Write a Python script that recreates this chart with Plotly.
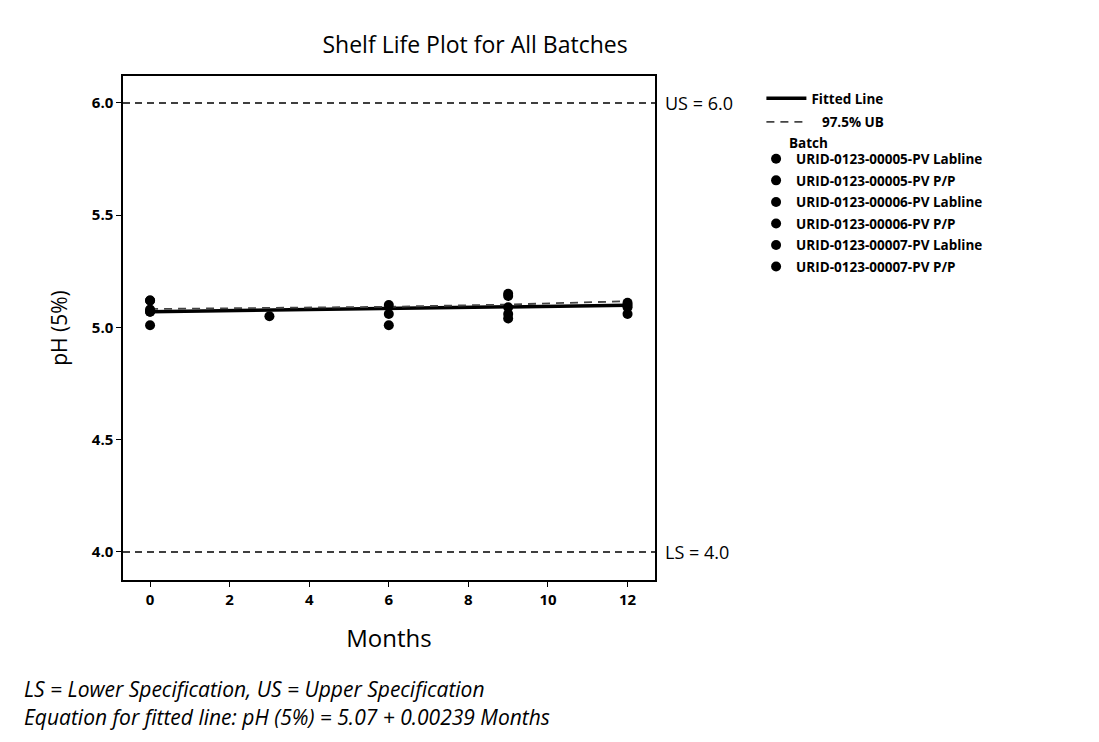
import plotly.graph_objects as go

# ---- data ----
batches = [
    "URID-0123-00005-PV Labline",
    "URID-0123-00005-PV P/P",
    "URID-0123-00006-PV Labline",
    "URID-0123-00006-PV P/P",
    "URID-0123-00007-PV Labline",
    "URID-0123-00007-PV P/P",
]
batch_months = [
    [0, 3, 6, 9, 12],
    [0, 6, 9, 12],
    [0, 6, 9, 12],
    [0, 9],
    [0, 9],
    [0, 12],
]
batch_ph = [
    [5.12, 5.05, 5.10, 5.15, 5.10],
    [5.07, 5.06, 5.14, 5.09],
    [5.01, 5.01, 5.09, 5.06],
    [5.08, 5.06],
    [5.07, 5.04],
    [5.12, 5.11],
]
intercept = 5.07
slope = 0.00239
fit_months = [0, 12]
ub_months = [0, 3, 6, 9, 12]
ub_values = [5.082, 5.086, 5.092, 5.102, 5.117]
lower_spec = 4.0
upper_spec = 6.0
x_ticks = [0, 2, 4, 6, 8, 10, 12]
y_ticks = [4.0, 4.5, 5.0, 5.5, 6.0]

FONT = "Open Sans"
BOLD = dict(family=FONT, size=13.5, color="black", weight="bold")

fig = go.Figure()

fig.add_trace(go.Scatter(
    x=fit_months, y=[intercept + slope * m for m in fit_months],
    mode="lines", line=dict(color="black", width=3.5),
    name="Fitted Line", legend="legend", legendgroup="fit"))
fig.add_trace(go.Scatter(
    x=ub_months, y=ub_values, mode="lines",
    line=dict(color="#444444", width=1.8, dash="8px,6px"),
    name="\u00a0\u00a0\u00a097.5% UB", legend="legend", legendgroup="ub"))

for i, (name, xs, ys) in enumerate(zip(batches, batch_months, batch_ph)):
    fig.add_trace(go.Scatter(
        x=xs, y=ys, mode="markers", name=name, legend="legend2", legendgroup=f"b{i}",
        marker=dict(color="black", size=10, symbol="circle")))

for val, lab in [(upper_spec, "US = 6.0"), (lower_spec, "LS = 4.0")]:
    fig.add_shape(type="line", xref="paper", x0=0, x1=1, yref="y", y0=val, y1=val,
                  line=dict(color="black", width=1.4, dash="7px,5px"))
    fig.add_annotation(xref="paper", x=1.0, y=val, text=lab, showarrow=False,
                       xanchor="left", xshift=8, font=dict(family=FONT, size=18, color="black"))

fig.add_annotation(xref="paper", yref="paper", x=1.2485, y=0.868, text="Batch",
                   showarrow=False, xanchor="left", yanchor="middle", font=BOLD)

fig.add_annotation(xref="paper", yref="paper", x=-0.19, y=-0.217,
                   text="<i>LS = Lower Specification, US = Upper Specification</i>",
                   showarrow=False, xanchor="left", yanchor="middle",
                   font=dict(family=FONT, size=21, color="black"))
fig.add_annotation(xref="paper", yref="paper", x=-0.19, y=-0.271,
                   text="<i>Equation for fitted line: pH (5%) = 5.07 + 0.00239 Months</i>",
                   showarrow=False, xanchor="left", yanchor="middle",
                   font=dict(family=FONT, size=21, color="black"))

axis_common = dict(showline=True, linecolor="black", linewidth=1.5, mirror=True,
                   ticks="outside", ticklen=5, tickcolor="black", showgrid=False,
                   zeroline=False,
                   tickfont=dict(family=FONT, size=15, color="black", weight="bold"))

fig.update_layout(
    width=1099, height=742,
    paper_bgcolor="white", plot_bgcolor="white",
    margin=dict(l=115, r=452, t=68, b=170),
    title=dict(text="Shelf Life Plot for All Batches", x=0.425, xanchor="center",
               y=0.95, yanchor="middle",
               font=dict(family=FONT, size=23, color="black")),
    xaxis=dict(range=[-0.68, 12.69], tickvals=x_ticks,
               title=dict(text="Months", font=dict(family=FONT, size=24, color="black"), standoff=22),
               **axis_common),
    yaxis=dict(range=[3.875, 6.12], tickvals=y_ticks, ticktext=["4.0", "4.5", "5.0", "5.5", "6.0"],
               title=dict(text="pH (5%)", font=dict(family=FONT, size=21, color="black"), standoff=18),
               **axis_common),
    legend=dict(x=1.2, y=0.986, xanchor="left", yanchor="top", bgcolor="rgba(0,0,0,0)",
                font=BOLD, itemwidth=40, tracegroupgap=3),
    legend2=dict(x=1.19, y=0.866, xanchor="left", yanchor="top", bgcolor="rgba(0,0,0,0)",
                 font=BOLD, itemwidth=30, tracegroupgap=1),
    showlegend=True,
)

fig.write_html("out.html")
